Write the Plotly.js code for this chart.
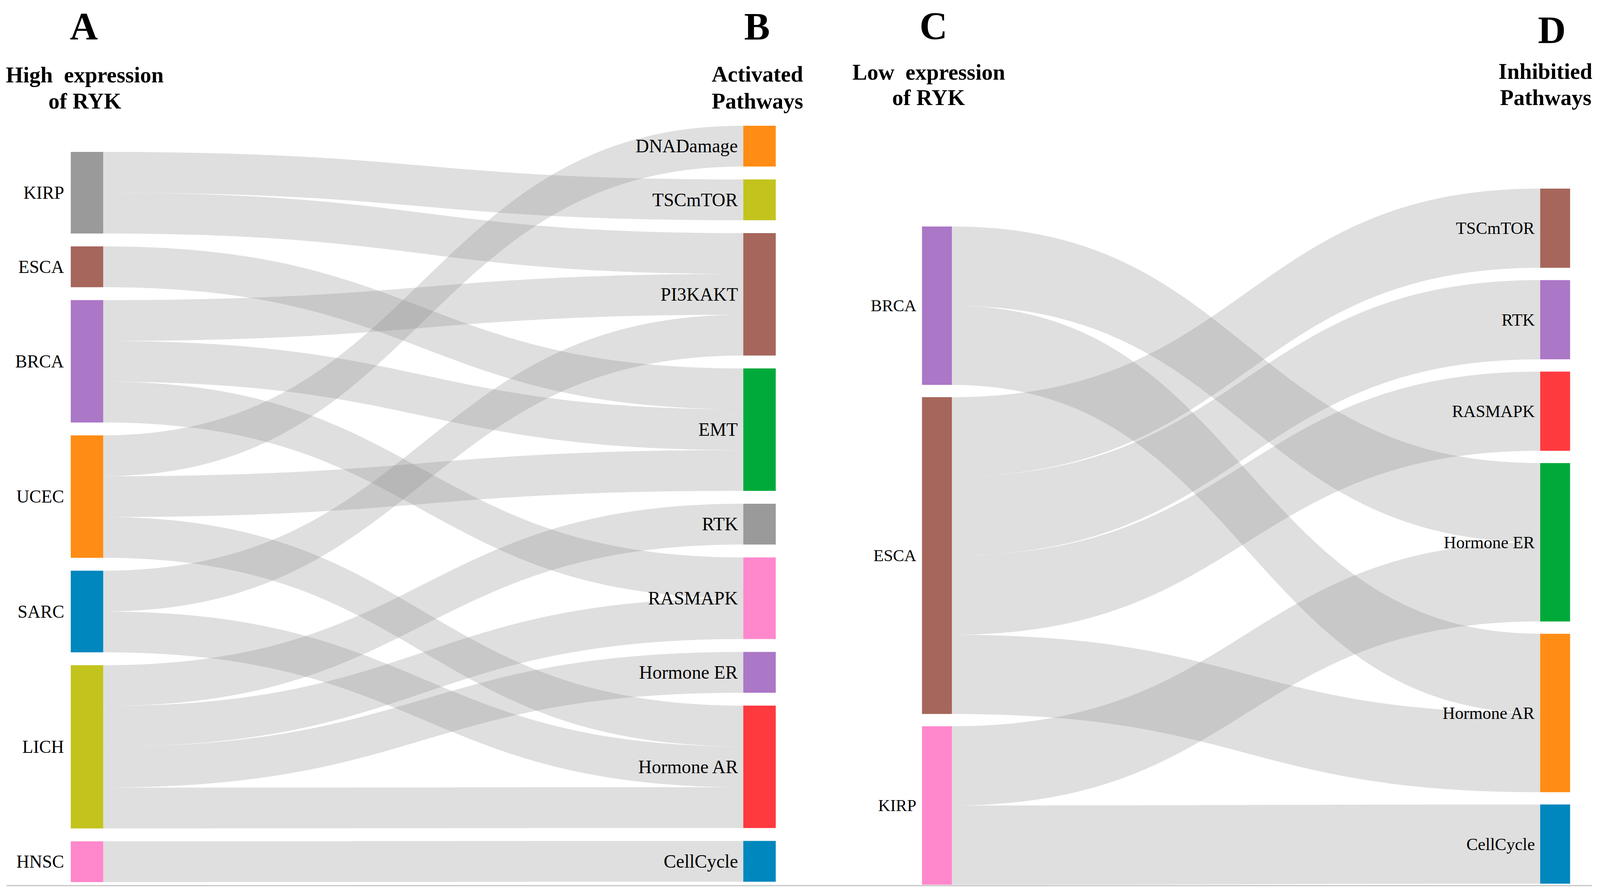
<!DOCTYPE html>
<html>
<head>
<meta charset="utf-8">
<script src="https://cdn.plot.ly/plotly-3.0.1.min.js"></script>
<style>
html,body{margin:0;padding:0;background:#ffffff;overflow:hidden;}
#chart{position:absolute;left:0;top:0;}
</style>
</head>
<body>
<div id="chart"></div>
<script>
// ---------------- DATA ----------------
// Panel A/B: high expression of RYK -> activated pathways
const highCancers = ['KIRP', 'ESCA', 'BRCA', 'UCEC', 'SARC', 'LICH', 'HNSC'];
const highCancerColors = ['#9a9a9a', '#a6665b', '#ab77c7', '#ff8c14', '#0087be', '#c3c31e', '#ff88cc'];
const activatedPathways = ['DNADamage', 'TSCmTOR', 'PI3KAKT', 'EMT', 'RTK', 'RASMAPK', 'Hormone ER', 'Hormone AR', 'CellCycle'];
const activatedColors = ['#ff8c14', '#c3c31e', '#a6665b', '#00aa3a', '#9a9a9a', '#ff88cc', '#ab77c7', '#ff3a3f', '#0087be'];
const highLinkFrom = ['KIRP', 'KIRP', 'ESCA', 'BRCA', 'BRCA', 'BRCA', 'UCEC', 'UCEC', 'UCEC', 'SARC', 'SARC', 'LICH', 'LICH', 'LICH', 'LICH', 'HNSC'];
const highLinkTo = ['TSCmTOR', 'PI3KAKT', 'EMT', 'PI3KAKT', 'EMT', 'RASMAPK', 'DNADamage', 'EMT', 'Hormone AR', 'PI3KAKT', 'Hormone AR', 'RTK', 'RASMAPK', 'Hormone ER', 'Hormone AR', 'CellCycle'];
const highLinkValue = [1, 1, 1, 1, 1, 1, 1, 1, 1, 1, 1, 1, 1, 1, 1, 1];

// Panel C/D: low expression of RYK -> inhibited pathways
const lowCancers = ['BRCA', 'ESCA', 'KIRP'];
const lowCancerColors = ['#ab77c7', '#a6665b', '#ff88cc'];
const inhibitedPathways = ['TSCmTOR', 'RTK', 'RASMAPK', 'Hormone ER', 'Hormone AR', 'CellCycle'];
const inhibitedColors = ['#a6665b', '#ab77c7', '#ff3a3f', '#00aa3a', '#ff8c14', '#0087be'];
const lowLinkFrom = ['BRCA', 'BRCA', 'ESCA', 'ESCA', 'ESCA', 'ESCA', 'KIRP', 'KIRP'];
const lowLinkTo = ['Hormone ER', 'Hormone AR', 'TSCmTOR', 'RTK', 'RASMAPK', 'Hormone AR', 'Hormone ER', 'CellCycle'];
const lowLinkValue = [1, 1, 1, 1, 1, 1, 1, 1];

// Headings
const panelLetters = ['A', 'B', 'C', 'D'];
const headingLines = [
  ['High  expression', 'of RYK'],
  ['Activated', 'Pathways'],
  ['Low  expression', 'of RYK'],
  ['Inhibitied', 'Pathways']
];

// ---------------- LAYOUT GEOMETRY (reference pixels, scaled to the viewport) ----------------
const RW = 4387, RH = 2292;
const VW = window.innerWidth || RW, VH = window.innerHeight || RH;
const sx = VW / RW, sy = VH / RH, sf = Math.min(sx, sy);
document.getElementById('chart').style.width = VW + 'px';
document.getElementById('chart').style.height = VH + 'px';

const SERIF = '"Liberation Serif", "Times New Roman", Times, serif';
const LINK_COLOR = 'rgba(141,141,141,0.28)';

const panels = [
  {
    sources: highCancers, sourceColors: highCancerColors,
    targets: activatedPathways, targetColors: activatedColors,
    from: highLinkFrom, to: highLinkTo, value: highLinkValue,
    dx0: 0, dx1: 2193.5, top: 322, bottom: 2258,
    pad: 33, thickness: 89, srcOffset: 67,
    srcLeft: 194, tgtLeft: 2038, srcGap: 16, tgtGap: 13, srcSize: 49, tgtSize: 51
  },
  {
    sources: lowCancers, sourceColors: lowCancerColors,
    targets: inhibitedPathways, targetColors: inhibitedColors,
    from: lowLinkFrom, to: lowLinkTo, value: lowLinkValue,
    dx0: 2193.5, dx1: 4387, top: 483, bottom: 2263,
    pad: 31.5, thickness: 82, srcOffset: 97,
    srcLeft: 2528, tgtLeft: 4223, srcGap: 13, tgtGap: 13, srcSize: 46, tgtSize: 47
  }
];

const traces = [];
const annotations = [];

panels.forEach(function (p) {
  const nS = p.sources.length;
  const labels = p.sources.concat(p.targets);
  const colors = p.sourceColors.concat(p.targetColors);
  const src = p.from.map(function (s) { return p.sources.indexOf(s); });
  const tgt = p.to.map(function (t) { return nS + p.targets.indexOf(t); });

  const srcTot = p.sources.map(function (s) {
    let v = 0; p.from.forEach(function (f, i) { if (f === s) v += p.value[i]; }); return v;
  });
  const tgtTot = p.targets.map(function (t) {
    let v = 0; p.to.forEach(function (f, i) { if (f === t) v += p.value[i]; }); return v;
  });
  const Hd = p.bottom - p.top;
  const sum = function (a) { return a.reduce(function (x, y) { return x + y; }, 0); };
  const ky = Math.min((Hd - (nS - 1) * p.pad) / sum(srcTot),
                      (Hd - (p.targets.length - 1) * p.pad) / sum(tgtTot));
  function centers(tots, offset) {
    let y = offset;
    return tots.map(function (v) { const h = v * ky; const c = y + h / 2; y += h + p.pad; return c; });
  }
  const srcC = centers(srcTot, p.srcOffset);
  const tgtC = centers(tgtTot, 0);
  const dw = p.dx1 - p.dx0;
  const xSrc = (p.srcLeft + p.thickness / 2 - p.dx0) / dw;
  const xTgt = (p.tgtLeft + p.thickness / 2 - p.dx0) / dw;
  const nodeX = srcC.map(function () { return xSrc; }).concat(tgtC.map(function () { return xTgt; }));
  const nodeY = srcC.map(function (c) { return c / Hd; }).concat(tgtC.map(function (c) { return c / Hd; }));

  traces.push({
    type: 'sankey',
    arrangement: 'fixed',
    domain: { x: [p.dx0 / RW, p.dx1 / RW], y: [1 - p.bottom / RH, 1 - p.top / RH] },
    node: {
      label: labels.map(function () { return ''; }),
      customdata: labels,
      hovertemplate: '%{customdata}<extra></extra>',
      color: colors,
      x: nodeX,
      y: nodeY,
      pad: p.pad * sy,
      thickness: p.thickness * sx,
      line: { width: 0 }
    },
    link: {
      source: src,
      target: tgt,
      value: p.value,
      color: p.value.map(function () { return LINK_COLOR; }),
      line: { width: 0 }
    }
  });

  // node labels (left of every node)
  p.sources.forEach(function (s, i) {
    annotations.push({
      text: s, xref: 'paper', yref: 'paper',
      x: (p.srcLeft - p.srcGap) / RW, y: 1 - (p.top + srcC[i]) / RH,
      xanchor: 'right', yanchor: 'middle', showarrow: false,
      font: { family: SERIF, size: p.srcSize * sf, color: '#000' }
    });
  });
  p.targets.forEach(function (t, i) {
    annotations.push({
      text: t, xref: 'paper', yref: 'paper',
      x: (p.tgtLeft - p.tgtGap) / RW, y: 1 - (p.top + tgtC[i]) / RH,
      xanchor: 'right', yanchor: 'middle', showarrow: false,
      font: { family: SERIF, size: p.tgtSize * sf, color: '#000' }
    });
  });
});

// headings: letter centre x/y, text centre x, line-1 y, line-2 y (reference pixels)
const headingPos = [
  { lx: 230, ly: 67, tx: 232, t1: 191, t2: 259 },
  { lx: 2076, ly: 67, tx: 2077, t1: 189, t2: 258 },
  { lx: 2559, ly: 66, tx: 2546, t1: 184, t2: 249 },
  { lx: 4255, ly: 77, tx: 4238, t1: 182, t2: 249 }
];
panelLetters.forEach(function (L, i) {
  const hp = headingPos[i];
  annotations.push({
    text: '<b>' + L + '</b>', xref: 'paper', yref: 'paper',
    x: hp.lx / RW, y: 1 - hp.ly / RH, xanchor: 'center', yanchor: 'middle', showarrow: false,
    font: { family: SERIF, size: 106 * sf, color: '#000' }
  });
  annotations.push({
    text: '<b>' + headingLines[i][0].replace(/  /g, '&nbsp; ') + '</b>', xref: 'paper', yref: 'paper',
    x: hp.tx / RW, y: 1 - hp.t1 / RH, xanchor: 'center', yanchor: 'middle', showarrow: false,
    font: { family: SERIF, size: 61 * sf, color: '#000' }
  });
  annotations.push({
    text: '<b>' + headingLines[i][1] + '</b>', xref: 'paper', yref: 'paper',
    x: hp.tx / RW, y: 1 - hp.t2 / RH, xanchor: 'center', yanchor: 'middle', showarrow: false,
    font: { family: SERIF, size: 61 * sf, color: '#000' }
  });
});

const layout = {
  width: VW, height: VH,
  margin: { l: 0, r: 0, t: 0, b: 0, pad: 0 },
  paper_bgcolor: '#ffffff',
  plot_bgcolor: '#ffffff',
  font: { family: SERIF, color: '#000' },
  showlegend: false,
  annotations: annotations,
  shapes: [{
    type: 'line', xref: 'paper', yref: 'paper',
    x0: 18 / RW, x1: 4365 / RW, y0: 1 - 2268 / RH, y1: 1 - 2268 / RH,
    line: { color: '#c4c4c4', width: 3 * sf }
  }]
};

Plotly.newPlot('chart', traces, layout, { staticPlot: true, displayModeBar: false });
</script>
</body>
</html>
